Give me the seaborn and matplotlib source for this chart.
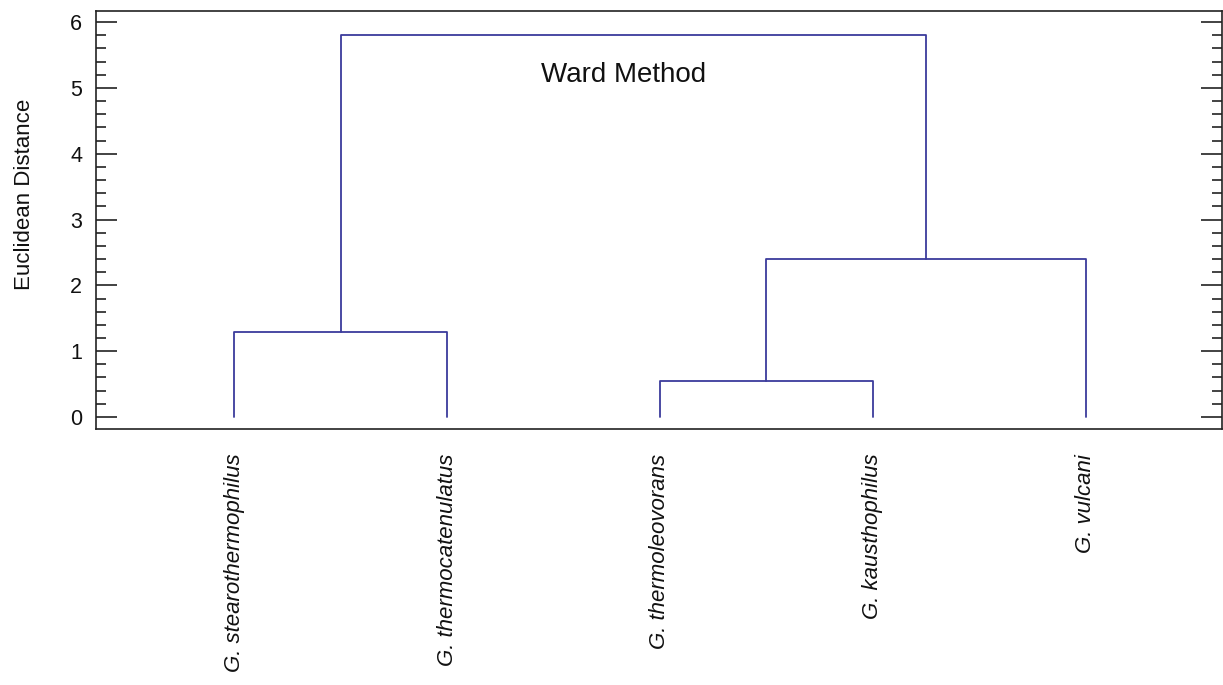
import matplotlib
matplotlib.use("Agg")
import matplotlib.pyplot as plt
import seaborn as sns
import pandas as pd
from matplotlib.ticker import MultipleLocator

# Data
leaves = ["G. stearothermophilus", "G. thermocatenulatus", "G. thermoleovorans",
          "G. kausthophilus", "G. vulcani"]
# merges: (left child, right child, height); children >= 5 refer to earlier merges
merge_left = [0, 2, 6, 5]
merge_right = [1, 3, 4, 7]
merge_height = [1.29, 0.55, 2.40, 5.80]
yticks = [0, 1, 2, 3, 4, 5, 6]

sns.set_style("ticks")
plt.rcParams['font.family'] = ['Liberation Sans', 'DejaVu Sans']
plt.rcParams.update({"text.color": "#111111", "axes.labelcolor": "#111111",
                     "xtick.color": "#222222", "ytick.color": "#222222",
                     "xtick.labelcolor": "#111111", "ytick.labelcolor": "#111111"})

n = len(leaves)
pos = {i: float(i) for i in range(n)}
hgt = {i: 0.0 for i in range(n)}
rows = []
for k, (a, b, h) in enumerate(zip(merge_left, merge_right, merge_height)):
    xa, xb = pos[a], pos[b]
    ya, yb = hgt[a], hgt[b]
    for order, (x, y) in enumerate([(xa, ya), (xa, h), (xb, h), (xb, yb)]):
        rows.append({"seg": k, "order": order, "x": x, "y": y})
    pos[n + k] = (xa + xb) / 2
    hgt[n + k] = h
df = pd.DataFrame(rows)

fig, ax = plt.subplots(figsize=(12.23, 6.85), dpi=100)
fig.subplots_adjust(left=0.0785, right=0.999, top=0.984, bottom=0.374)

sns.lineplot(data=df, x="x", y="y", units="seg", estimator=None, sort=False,
             color="#3b3b9c", linewidth=1.3, ax=ax, legend=False)

ax.set_xlim(-0.65, 4.64)
ax.set_ylim(-0.18, 6.17)
ax.set_xticks(range(n))
ax.set_xticklabels(leaves, rotation=90, fontstyle="italic", fontsize=16,
                   va="top", ha="center")
ax.tick_params(axis="x", length=0, pad=18)
ax.set_yticks(yticks)
ax.yaxis.set_minor_locator(MultipleLocator(0.2))
ax.tick_params(axis="y", which="major", direction="in", length=15, width=1.2,
               labelsize=15.5, right=True, pad=10)
ax.tick_params(axis="y", which="minor", direction="in", length=7.2, width=1.2,
               right=True)
ax.set_xlabel("")
ax.set_ylabel("Euclidean Distance", fontsize=16)
ax.yaxis.set_label_coords(-0.054, 0.562)
for s in ax.spines.values():
    s.set_visible(True)
    s.set_linewidth(1.2)
    s.set_color("#222222")

ax.text(0.469, 0.846, "Ward Method", transform=ax.transAxes, ha="center",
        va="center", fontsize=20)

fig.savefig("out.png", dpi=100)
